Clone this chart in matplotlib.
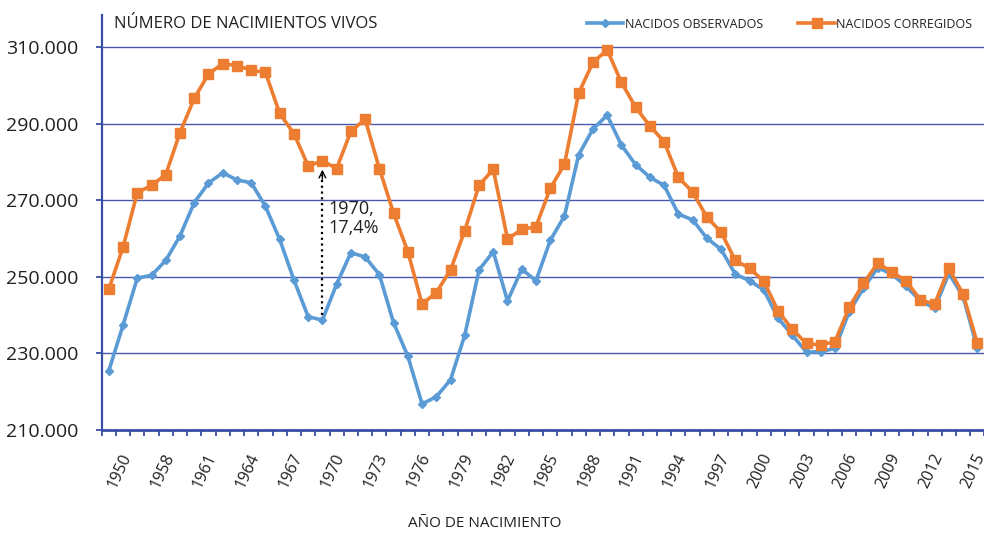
import matplotlib
matplotlib.use("Agg")
import matplotlib.pyplot as plt
import matplotlib.transforms as mtransforms
from matplotlib.lines import Line2D

# ---------------- data ----------------
years = ["1950", "1952", "1955"] + [str(y) for y in range(1958, 2017)]

observados = [225500, 237400, 249700, 250400, 254300, 260700, 269400, 274500, 277200, 275300,
              274600, 268400, 259800, 249200, 239600, 238700, 248100, 256300, 255200, 250600,
              238000, 229300, 216800, 218700, 223100, 234800, 251800, 256600, 243700, 252000,
              249000, 259500, 265900, 281900, 288600, 292200, 284400, 279300, 276000, 273900,
              266400, 264900, 260100, 257200, 250700, 249000, 246600, 239200, 234800, 230300,
              230500, 231300, 240900, 247000, 252400, 250700, 247500, 243700, 241800, 250900,
              244800, 231300]

corregidos = [246800, 257800, 272000, 273900, 276700, 287700, 296600, 303000, 305700, 305200,
              304000, 303400, 292700, 287400, 279000, 280300, 278300, 288000, 291200, 278300,
              266600, 256600, 242900, 245900, 251800, 262100, 273900, 278100, 259900, 262400,
              263100, 273100, 279400, 298000, 306000, 309300, 300800, 294300, 289400, 285300,
              276000, 272200, 265600, 261700, 254300, 252200, 248900, 241100, 236300, 232600,
              232200, 233100, 242100, 248300, 253600, 251300, 248900, 244000, 242900, 252200,
              245500, 232600]

label_every = 3
yticks = [210000, 230000, 250000, 270000, 290000, 310000]
annot_year = "1970"
annot_text = "1970,\n17,4%"

# ---------------- style ----------------
FONT = ["Open Sans", "DejaVu Sans"]
plt.rcParams["font.family"] = FONT
BLUE = "#5B9BD5"
ORANGE = "#ED7D31"
AXC = "#3A4DA6"
GRIDC = "#4858AC"
TXT = "#231F20"

fig = plt.figure(figsize=(9.84, 5.34), dpi=100)
W, H = 984, 534
ax = fig.add_axes([101.7 / W, 1 - 430 / H, 1 - 101.7 / W + 0.0005, (430 - 15) / H])

x = list(range(len(years)))
ax.plot(x, observados, color=BLUE, lw=2.6, marker="D", markersize=4.2,
        markerfacecolor=BLUE, markeredgecolor=BLUE, zorder=3, clip_on=True)
ax.plot(x, corregidos, color=ORANGE, lw=2.6, marker="s", markersize=7.2,
        markerfacecolor=ORANGE, markeredgecolor=ORANGE, zorder=4, clip_on=True)

ax.set_xlim(-0.5, len(years) - 1 + 0.0)
ax.set_ylim(210000, 318400)

# gridlines
ax.set_yticks(yticks)
ax.set_yticklabels([f"{v:,}".replace(",", ".") for v in yticks], fontsize=14, color=TXT)
ax.yaxis.grid(True, color=GRIDC, lw=1.0)
ax.set_axisbelow(True)
ax.tick_params(axis="y", direction="out", length=4, width=1.3, color=AXC, pad=13)

# x ticks: minor ticks at category boundaries, labels every 3 categories
ax.set_xticks([i - 0.5 for i in range(len(years) + 1)], minor=True)
ax.set_xticks([])
ax.tick_params(axis="x", which="minor", direction="out", length=4, width=1.3, color=AXC)

offset = mtransforms.ScaledTranslation(10.6 / 100, -21 / 100, fig.dpi_scale_trans)
trans = mtransforms.blended_transform_factory(ax.transData, ax.transAxes) + offset
for i in range(0, len(years), label_every):
    ax.text(i, 0, years[i], transform=trans, rotation=65, ha="center", va="top",
            fontsize=11.5, color=TXT, clip_on=False)

for s in ["top", "right"]:
    ax.spines[s].set_visible(False)
ax.spines["left"].set_color(AXC)
ax.spines["left"].set_linewidth(1.6)
ax.spines["bottom"].set_color(AXC)
ax.spines["bottom"].set_linewidth(2.0)

# annotation arrow
ia = years.index(annot_year)
y_top = corregidos[ia] - 2300
y_bot = observados[ia] + 1300
ax.plot([ia, ia], [y_bot, y_top - 1500], color="black", lw=1.6, ls=(0, (1, 1.6)), zorder=5)
ax.annotate("", xy=(ia, y_top), xytext=(ia, y_top - 2500),
            arrowprops=dict(arrowstyle="->", color="black", lw=1.0, mutation_scale=12,
                            shrinkA=0, shrinkB=0), zorder=5)
ax.text(ia + 0.42, 270000, annot_text, fontsize=13, color=TXT, va="top", ha="left",
        linespacing=1.05, zorder=6)

# title and axis label
fig.text(114 / W, 1 - 24 / H, "NÚMERO DE NACIMIENTOS VIVOS", fontsize=12, color=TXT,
         va="center", ha="left")
fig.text(485 / W, 1 - 523.5 / H, "AÑO DE NACIMIENTO", fontsize=11, color=TXT,
         va="center", ha="center")

# legend
handles = [Line2D([], [], color=BLUE, lw=2.6, marker="D", markersize=4.2),
           Line2D([], [], color=ORANGE, lw=2.6, marker="s", markersize=7.2)]
leg = fig.legend(handles, ["NACIDOS OBSERVADOS", "NACIDOS CORREGIDOS"], ncol=2,
                 loc="center left", bbox_to_anchor=(587 / W, 1 - 24 / H),
                 bbox_transform=fig.transFigure, frameon=False, fontsize=9,
                 handlelength=2.9, handletextpad=0.15, columnspacing=2.8,
                 borderpad=0, borderaxespad=0, markerscale=1.0)
for t in leg.get_texts():
    t.set_color(TXT)

fig.savefig("out.png", dpi=100)
